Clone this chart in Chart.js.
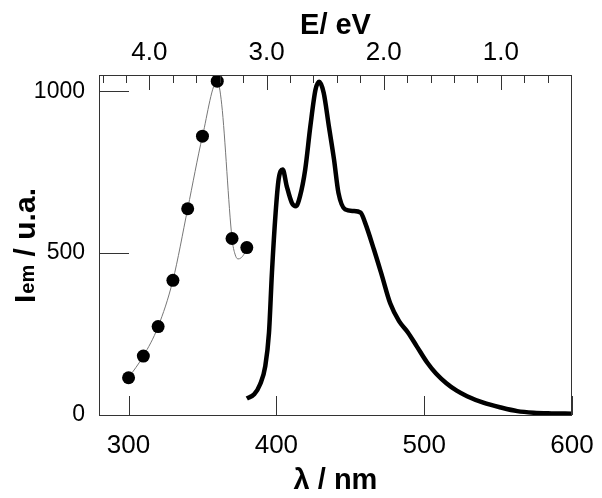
<!DOCTYPE html>
<html lang="en">

<head>
    <meta charset="UTF-8">
    <script src="https://cdn.jsdelivr.net/npm/chart.js"></script>
    <title>Emission</title>
    <style>
        body { margin: 0; background: #fff; }
        canvas { display: block; }
    </style>
</head>

<body>
    <canvas id="grafico" width="602" height="498"></canvas>
</body>

</html>

<script>

    // excitation points (dots) and the thin fitted line through them
    var excWl = [300, 310, 320, 330, 340, 350, 360, 370, 380];
    var excVal = [115, 182, 273, 416, 637, 861, 1031, 545, 517];

    var fitWl = [300, 310, 320, 330, 340, 350, 360, 363, 370, 372, 374, 376, 378, 380];
    var fitVal = [115, 182, 273, 416, 637, 861, 1031, 960, 545, 497, 482, 485, 496, 517];

    // emission spectrum (thick line)
    var emWl = [380, 385, 389, 392.5, 395, 397, 399.5, 401.5, 404.3, 407, 410.5, 413.3, 416, 419.5, 423, 426.5, 429, 432,
        435.5, 439, 442, 446.5, 452, 457, 460, 466, 471.5, 477, 483, 489, 495, 502, 508, 515, 522, 529, 540, 552, 563, 574, 586, 600];
    var emVal = [51, 64, 95, 151, 254, 440, 625, 727, 758, 707, 655, 645, 676, 758, 892, 1005, 1029, 995,
        892, 789, 686, 635, 630, 625, 594, 511, 429, 345, 290, 255, 212, 162, 128, 98, 75, 58, 38, 23, 12, 7, 5, 4];

    // ticks
    var xTicks = [300, 400, 500, 600];
    var yTicks = [0, 500, 1000];
    var eTicks = [4, 3, 2, 1];
    var eMinor = [4.4, 4.2, 3.8, 3.6, 3.4, 3.2, 2.8, 2.6, 2.4, 2.2, 1.8, 1.6, 1.4, 1.2, 0.8, 0.6, 0.4];

    var fonte = "'Liberation Sans', Arial, sans-serif";

    function pares(xs, ys) {
        return xs.map(function (x, i) { return { x: x, y: ys[i] }; });
    }

    function semPadding(s) {
        s.paddingLeft = 0;
        s.paddingRight = 0;
    }

    // frame, inward ticks and the y title with subscript
    const moldura = {
        id: 'moldura',
        afterDraw(chart) {
            const ctx = chart.ctx;
            const a = chart.chartArea;
            const sx = chart.scales.x;
            const sy = chart.scales.y;
            const se = chart.scales.e;

            ctx.save();
            ctx.strokeStyle = '#333';
            ctx.lineWidth = 1;
            ctx.strokeRect(a.left + 0.5, a.top + 0.5, a.right - a.left - 1, a.bottom - a.top);

            ctx.beginPath();
            xTicks.forEach(function (v) {
                const px = Math.round(sx.getPixelForValue(v)) + 0.5;
                ctx.moveTo(px, a.bottom);
                ctx.lineTo(px, a.bottom - 19);
            });
            yTicks.forEach(function (v) {
                const py = Math.round(sy.getPixelForValue(v)) + 0.5;
                ctx.moveTo(a.left, py);
                ctx.lineTo(a.left + 30, py);
            });
            eTicks.forEach(function (v) {
                const px = Math.round(se.getPixelForValue(v)) + 0.5;
                ctx.moveTo(px, a.top);
                ctx.lineTo(px, a.top + 15);
            });
            eMinor.forEach(function (v) {
                const px = Math.round(se.getPixelForValue(v)) + 0.5;
                ctx.moveTo(px, a.top);
                ctx.lineTo(px, a.top + 8);
            });
            ctx.stroke();

            // I_em / u.a.
            ctx.translate(35, 246);
            ctx.rotate(-Math.PI / 2);
            ctx.fillStyle = '#000';
            ctx.textBaseline = 'alphabetic';
            ctx.font = 'bold 30px ' + fonte;
            const w1 = ctx.measureText('I').width;
            ctx.font = 'bold 20px ' + fonte;
            const w2 = ctx.measureText('em').width;
            ctx.font = 'bold 30px ' + fonte;
            const w3 = ctx.measureText(' / u.a.').width;
            let x0 = -(w1 + w2 + w3) / 2;
            ctx.fillText('I', x0, 0);
            ctx.font = 'bold 20px ' + fonte;
            ctx.fillText('em', x0 + w1 + 1, -1);
            ctx.font = 'bold 30px ' + fonte;
            ctx.fillText(' / u.a.', x0 + w1 + w2 + 1, 0);
            ctx.restore();
        }
    };

    const config = {
        type: 'line',
        data: {
            datasets: [{
                label: 'excitacao',
                data: pares(excWl, excVal),
                showLine: false,
                pointRadius: 6.5,
                pointBackgroundColor: '#000',
                pointBorderColor: '#000',
                pointBorderWidth: 0
            }, {
                label: 'ajuste',
                data: pares(fitWl, fitVal),
                borderColor: '#777',
                borderWidth: 1,
                pointRadius: 0,
                cubicInterpolationMode: 'monotone'
            }, {
                label: 'emissao',
                data: pares(emWl, emVal),
                borderColor: '#000',
                borderWidth: 4.5,
                pointRadius: 0,
                cubicInterpolationMode: 'monotone'
            }]
        },
        options: {
            responsive: false,
            animation: false,
            devicePixelRatio: 1,
            layout: { padding: { left: 0, right: 30, top: 0, bottom: 0 } },
            plugins: {
                legend: { display: false },
                tooltip: { enabled: false }
            },
            scales: {
                x: {
                    type: 'linear',
                    position: 'bottom',
                    min: 280,
                    max: 600,
                    afterBuildTicks: function (s) { s.ticks = xTicks.map(function (v) { return { value: v }; }); },
                    afterFit: function (s) { s.height = 83; semPadding(s); },
                    grid: { display: false, drawTicks: false },
                    border: { display: false },
                    ticks: {
                        color: '#000',
                        padding: 15,
                        maxRotation: 0,
                        font: { family: fonte, size: 26 },
                        callback: function (v) { return String(v); }
                    },
                    title: {
                        display: true,
                        text: 'λ / nm',
                        color: '#000',
                        padding: { top: 0, bottom: 0 },
                        font: { family: fonte, size: 29, weight: 'bold' }
                    }
                },
                e: {
                    type: 'linear',
                    position: 'top',
                    reverse: true,
                    min: 0.393,
                    max: 4.43,
                    afterBuildTicks: function (s) { s.ticks = eTicks.map(function (v) { return { value: v }; }); },
                    afterFit: function (s) { s.height = 75; semPadding(s); },
                    grid: { display: false, drawTicks: false },
                    border: { display: false },
                    ticks: {
                        color: '#000',
                        padding: 7,
                        maxRotation: 0,
                        font: { family: fonte, size: 26 },
                        callback: function (v) { return Number(v).toFixed(1); }
                    },
                    title: {
                        display: true,
                        text: 'E/ eV',
                        color: '#000',
                        padding: { top: 9, bottom: 0 },
                        font: { family: fonte, size: 29, weight: 'bold' }
                    }
                },
                y: {
                    type: 'linear',
                    min: 0,
                    max: 1050,
                    afterBuildTicks: function (s) { s.ticks = yTicks.map(function (v) { return { value: v }; }); },
                    afterFit: function (s) { s.width = 99; },
                    grid: { display: false, drawTicks: false },
                    border: { display: false },
                    ticks: {
                        color: '#000',
                        padding: 14,
                        font: { family: fonte, size: 23 },
                        callback: function (v) { return String(v); }
                    }
                }
            }
        },
        plugins: [moldura]
    };

    const grafico = new Chart(document.getElementById('grafico'), config);

</script>
